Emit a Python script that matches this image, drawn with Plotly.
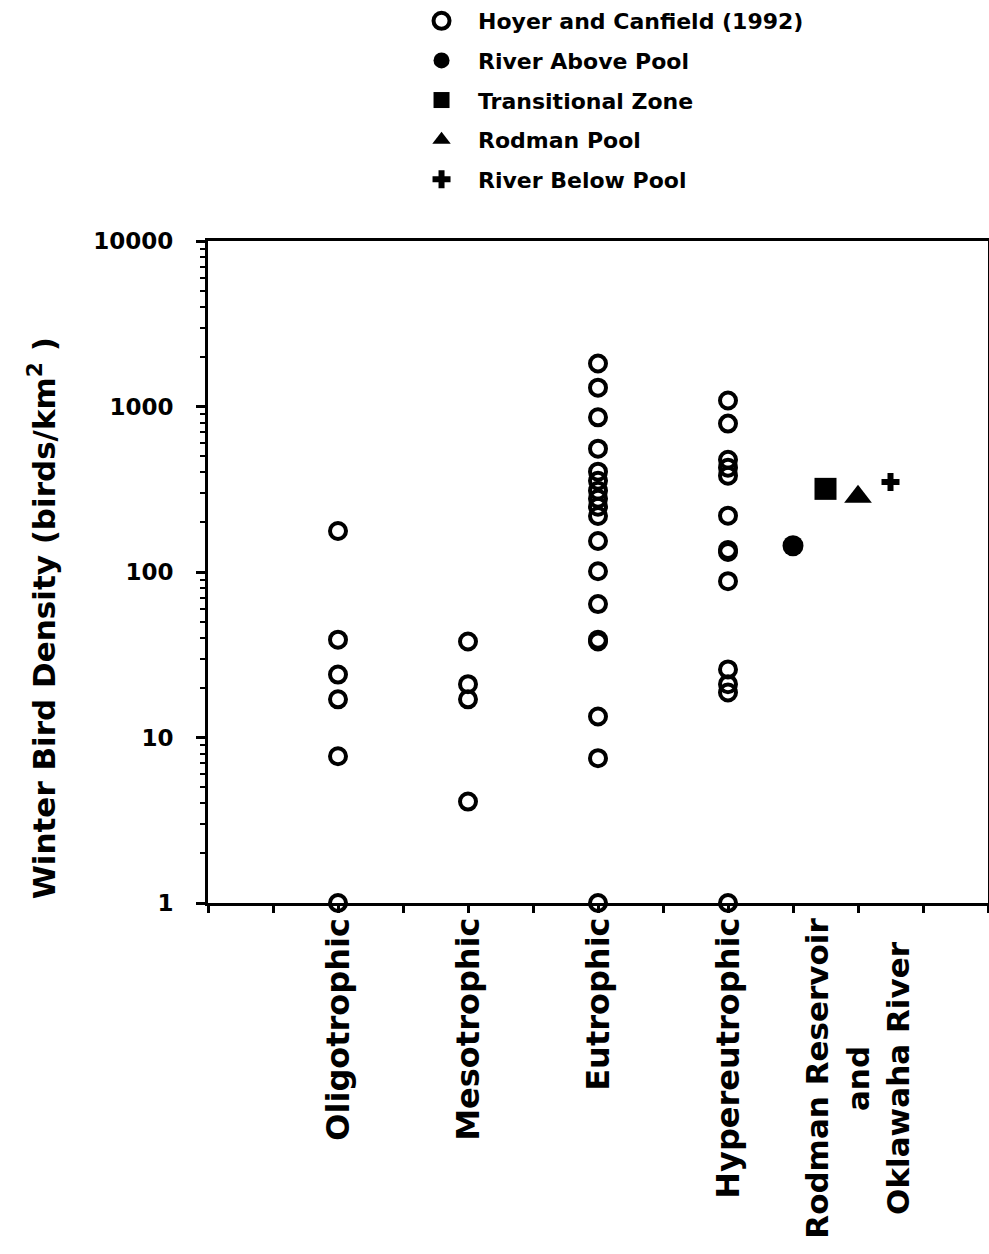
import plotly.graph_objects as go

# ---- data ----
categories = ["Oligotrophic", "Mesotrophic", "Eutrophic", "Hypereutrophic",
              "Rodman Reservoir<br>and<br>Oklawaha River"]
category_pos = [2, 4, 6, 8, 10]

oligotrophic = [177, 39, 24, 17, 7.7, 1]
mesotrophic = [38, 21, 17, 4.1]
eutrophic = [1820, 1300, 860, 556, 404, 356, 310, 277, 248, 218,
             154, 101, 64, 39, 38, 13.4, 7.5, 1]
hypereutrophic = [1087, 788, 477, 427, 382, 219, 136, 132, 88, 25.8, 21, 18.7, 1]

rodman_names = ["River Above Pool", "Transitional Zone", "Rodman Pool", "River Below Pool"]
rodman_pos = [9, 9.5, 10, 10.5]
rodman_vals = [144, 318, 285, 350]

y_tickvals = [1, 10, 100, 1000, 10000]
y_ticktext = ["1", "10", "100", "1000", "10000"]

FONT = "DejaVu Sans"

hoyer_x, hoyer_y = [], []
for pos, vals in zip(category_pos[:4], [oligotrophic, mesotrophic, eutrophic, hypereutrophic]):
    hoyer_x += [pos] * len(vals)
    hoyer_y += vals

fig = go.Figure()
fig.add_trace(go.Scatter(
    x=hoyer_x, y=hoyer_y, mode="markers", name="Hoyer and Canfield (1992)",
    legendgroup="a",
    marker=dict(symbol="circle-open", size=16, color="black", line=dict(width=4, color="black")),
    cliponaxis=False))

styles = [
    dict(symbol="circle", size=21),
    dict(symbol="square", size=22),
    dict(symbol="triangle-up", size=24),
    dict(symbol="cross", size=15),
]
for i, (nm, px, v, st) in enumerate(zip(rodman_names, rodman_pos, rodman_vals, styles)):
    fig.add_trace(go.Scatter(
        x=[px], y=[v], mode="markers", name=nm, legendgroup="g%d" % i,
        marker=dict(color="black", line=dict(width=0), **st), cliponaxis=False))

# category labels under the x axis
label_sizes = [32, 32, 32, 32, 31]
for lab, pos, fs in zip(categories, category_pos, label_sizes):
    fig.add_annotation(
        x=pos, xref="x", y=-0.02, yref="paper", text=lab, showarrow=False,
        textangle=-90, xanchor="center", yanchor="top", align="center",
        font=dict(family=FONT, size=fs, color="black", weight="bold"))

# y axis title
fig.add_annotation(
    x=-0.2128, xref="paper", y=0.43, yref="paper",
    text="Winter Bird Density (birds/km<sup>2</sup> )", showarrow=False,
    textangle=-90, xanchor="center", yanchor="middle",
    font=dict(family=FONT, size=31, color="black", weight="bold"))

fig.update_layout(
    width=989, height=1254,
    margin=dict(l=208, r=1, t=241, b=351, autoexpand=False),
    plot_bgcolor="white", paper_bgcolor="white",
    font=dict(family=FONT, color="black"),
    showlegend=True,
    legend=dict(
        x=0.2526, y=1.364, xanchor="left", yanchor="top", xref="paper", yref="paper",
        font=dict(family=FONT, size=22, color="black", weight="bold"),
        itemwidth=63, traceorder="grouped", tracegroupgap=8,
        bgcolor="rgba(0,0,0,0)", borderwidth=0),
    xaxis=dict(
        range=[0, 12], tickmode="linear", tick0=0, dtick=1,
        showticklabels=False, ticks="outside", ticklen=7, tickwidth=3, tickcolor="black",
        showline=True, linewidth=3, linecolor="black", mirror=True,
        showgrid=False, zeroline=False),
    yaxis=dict(
        type="log", range=[0, 4], tickvals=y_tickvals, ticktext=y_ticktext,
        ticks="outside", ticklen=9, tickwidth=3, tickcolor="black",
        ticklabelstandoff=18,
        tickfont=dict(family=FONT, size=23, color="black", weight="bold"),
        minor=dict(ticks="outside", ticklen=5, tickwidth=2, tickcolor="black",
                   dtick="D1", showgrid=False),
        showline=True, linewidth=3, linecolor="black", mirror=True,
        showgrid=False, zeroline=False),
)

fig.write_html(
    "out.html",
    config={"displayModeBar": False},
    post_script="document.body.style.margin='0';document.body.style.overflow='hidden';",
)
